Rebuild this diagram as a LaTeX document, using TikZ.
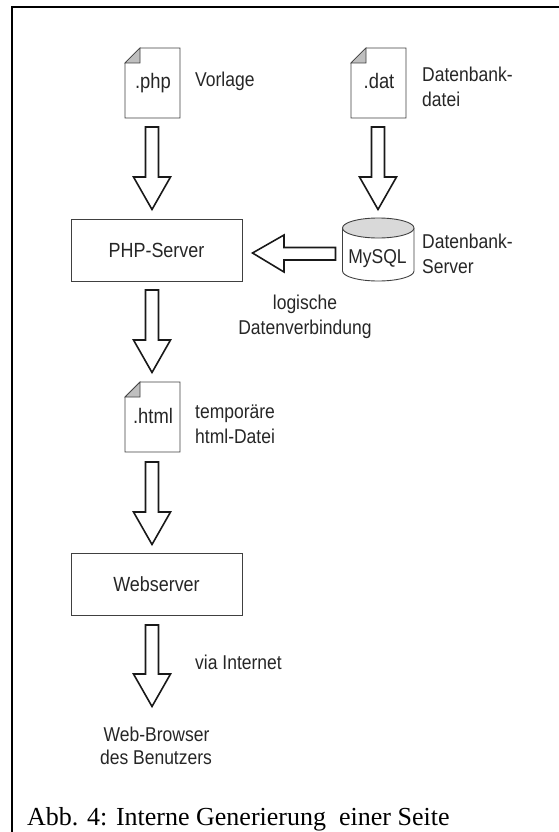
\documentclass[tikz,border=0pt]{standalone}
\usepackage{fontspec}
\setmainfont[FakeStretch=0.875]{Liberation Sans}
\newfontfamily\capfont{Liberation Serif}
\tikzset{
 x=1pt,y=-1pt,
 lbl/.style={font=\fontsize{20}{25}\selectfont,align=left,anchor=base west,inner sep=0pt,text=black!85},
 ctr/.style={font=\fontsize{20}{25}\selectfont,align=center,inner sep=0pt,text=black!85},
 srv/.style={draw=black!75,line width=0.9pt,minimum width=171pt,minimum height=62pt,inner sep=0pt,font=\fontsize{20.5}{25}\selectfont,text=black!85},
 fat/.style={draw=black!90,line width=1.6pt,line join=miter,fill=white},
 page/.style={draw=black!75,line width=0.9pt,line join=miter,fill=white},
 ear/.style={draw=black!75,line width=0.7pt,fill=black!25},
}
\newcommand{\docicon}[4]{%
 \draw[page] (#1+15,#2) -- (#1+55,#2) -- (#1+55,#2+70) -- (#1,#2+70) -- (#1,#2+15) -- cycle;
 \draw[ear] (#1+15,#2) -- (#1+15,#2+15) -- (#1,#2+15) -- cycle;
 \node[ctr,font=\fontsize{21}{25}\selectfont,anchor=base] (#4) at (#1+28,#2+41) {#3};
}
\newcommand{\fatdown}[3]{%
 \draw[fat] (#1-6.5,#2+1) -- (#1+6.5,#2+1) -- (#1+6.5,#3-34) -- (#1+18.5,#3-34) -- (#1,#3-1.5) -- (#1-18.5,#3-34) -- (#1-6.5,#3-34) -- cycle;
}
\begin{document}
\begin{tikzpicture}
\useasboundingbox (0,0) rectangle (559,832);
\draw[line width=2pt] (12,832) -- (12,7) -- (559,7);
\docicon{125}{48}{.php}{php}
\node[lbl] (vorlage) at (195,87) {Vorlage};
\docicon{351}{48}{.dat}{dat}
\node[lbl,anchor=west] (dbd) at (422,87) {Datenbank-\\datei};
\fatdown{152}{126}{211}
\fatdown{378}{126}{211}
\node[srv] (php) at (156.5,250) {PHP-Server};
\node[srv] (web) at (156.5,584.5) {Webserver};
% cylinder
\draw[page] (342.5,228) -- (342.5,271) arc[start angle=180,end angle=360,x radius=35.75,y radius=-10] -- (414,228);
\draw[page,fill=black!15] (378.25,228) ellipse[x radius=35.75,y radius=10];
\node[ctr,anchor=base] (mysql) at (377.5,263) {MySQL};
\node[lbl,anchor=west] (dbs) at (422,254) {Datenbank-\\Server};
% left arrow
\draw[fat] (335.5,247.5) -- (335.5,260) -- (284,260) -- (284,272) -- (252.5,253) -- (284,235) -- (284,247.5) -- cycle;
\node[ctr] (lv) at (305,317) {logische\\Datenverbindung};
\fatdown{152}{289}{374}
\docicon{125}{382}{.html}{html}
\node[lbl,anchor=west] (tmp) at (195,424) {temporäre\\html-Datei};
\fatdown{152}{461}{546}
\fatdown{152}{624}{708}
\node[lbl] (via) at (195,669) {via Internet};
\node[ctr,anchor=base] (wb) at (156.5,741) {Web-Browser};
\node[ctr,anchor=base] (db) at (156,764) {des Benutzers};
\node[anchor=base west,inner sep=0pt,font=\capfont\fontsize{26}{30}\selectfont] (cap) at (27,825.5) {Abb. 4: Interne Generierung\ \ einer Seite};
\end{tikzpicture}
\end{document}
